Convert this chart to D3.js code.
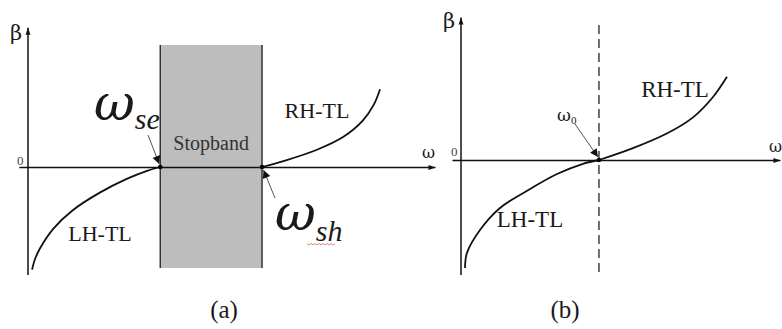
<!DOCTYPE html>
<html>
<head>
<meta charset="utf-8">
<script src="https://cdn.jsdelivr.net/npm/d3@7"></script>
<style>
  html, body { margin: 0; padding: 0; background: #fff; }
  svg { display: block; }
  text { font-family: "Liberation Serif", "Times New Roman", serif; fill: #1a1a1a; }
  .greek { font-family: "DejaVu Serif", "Noto Serif", "FreeSerif", "Liberation Serif", serif; }
</style>
</head>
<body>
<svg id="chart" width="782" height="329"></svg>
<script>
// ---- dispersion data (normalised ω, normalised β) ----
// (a) unbalanced CRLH line: left-handed branch, stopband, right-handed branch
const omegaSE = 1.3;
const omegaSH = 2.3;
const lhOmegaA = [0.04, 0.07, 0.12, 0.25, 0.44, 0.71, 0.97, 1.17, 1.3];
const lhBetaA  = [-0.95, -0.85, -0.75, -0.57, -0.40, -0.235, -0.11, -0.035, 0];
const rhOmegaA = [2.3, 2.51, 2.84, 3.1, 3.29, 3.4, 3.46];
const rhBetaA  = [0, 0.055, 0.16, 0.28, 0.43, 0.58, 0.72];

// (b) balanced CRLH line: continuous transition at ω0
const omega0 = 1.73;
const lhOmegaB = [0.05, 0.075, 0.238, 0.489, 0.828, 1.204, 1.53, 1.73];
const lhBetaB  = [-1.0, -0.86, -0.648, -0.444, -0.285, -0.13, -0.035, 0];
const rhOmegaB = [1.73, 2.157, 2.58, 2.91, 3.16, 3.335];
const rhBetaB  = [0, 0.11, 0.245, 0.395, 0.583, 0.77];

// axis extents
const omegaAxisA = [-0.09, 4];
const betaAxisA  = [-1.0, 1.29];
const stopbandBeta = [-0.935, 1.13];
const omegaAxisB = [-0.113, 4];
const betaAxisB  = [-1.065, 1.32];
const dashBeta   = [-1.046, 1.25];

const svg = d3.select("#chart");
const defs = svg.append("defs");
defs.append("marker")
  .attr("id", "axisHead").attr("viewBox", "0 0 10 10")
  .attr("refX", 10).attr("refY", 5)
  .attr("markerWidth", 10).attr("markerHeight", 7)
  .attr("markerUnits", "userSpaceOnUse")
  .attr("orient", "auto")
  .append("path").attr("d", "M0,1.5L10,5L0,8.5Z").attr("fill", "#111");
defs.append("marker")
  .attr("id", "pointerHead").attr("viewBox", "0 0 10 10")
  .attr("refX", 10).attr("refY", 5)
  .attr("markerWidth", 10).attr("markerHeight", 8)
  .attr("markerUnits", "userSpaceOnUse")
  .attr("orient", "auto")
  .append("path").attr("d", "M0,0L10,5L0,10Z").attr("fill", "#111");

const curve = d3.line().curve(d3.curveCatmullRom.alpha(0.5));

function drawAxes(g, x, y, omegaExt, betaExt) {
  const xAxisScale = x.copy().domain(omegaExt).range(omegaExt.map(x));
  const yAxisScale = y.copy().domain(betaExt).range(betaExt.map(y));
  const gx = g.append("g").attr("transform", `translate(0,${y(0)})`)
    .call(d3.axisBottom(xAxisScale).tickValues([]).tickSizeOuter(0));
  const gy = g.append("g").attr("transform", `translate(${x(0)},0)`)
    .call(d3.axisLeft(yAxisScale).tickValues([]).tickSizeOuter(0));
  [gx, gy].forEach(a => a.select(".domain")
    .attr("stroke", "#111").attr("stroke-width", 1.5)
    .attr("marker-end", "url(#axisHead)"));
  // domain paths run from range[0] to range[1]; y axis must point upward
  gy.select(".domain").attr("d", `M0,${y(betaExt[0])}V${y(betaExt[1])}`);
}

function pointer(g, x1, y1, x2, y2) {
  g.append("line").attr("x1", x1).attr("y1", y1).attr("x2", x2).attr("y2", y2)
    .attr("stroke", "#555").attr("stroke-width", 1)
    .attr("marker-end", "url(#pointerHead)");
}

function branch(g, x, y, om, be) {
  g.append("path").attr("d", curve(d3.zip(om, be).map(d => [x(d[0]), y(d[1])])))
    .attr("fill", "none").attr("stroke", "#111").attr("stroke-width", 1.8);
}

// ================= panel (a) =================
const xA = d3.scaleLinear().domain([0, 4]).range([28, 435]);
const yA = d3.scaleLinear().domain([-1, 1]).range([275, 59]);
const gA = svg.append("g");

gA.append("rect")
  .attr("x", xA(omegaSE)).attr("y", yA(stopbandBeta[1]))
  .attr("width", xA(omegaSH) - xA(omegaSE))
  .attr("height", yA(stopbandBeta[0]) - yA(stopbandBeta[1]))
  .attr("fill", "#bdbdbd").attr("stroke", "none");
[omegaSE, omegaSH].forEach(w => gA.append("line")
  .attr("x1", xA(w)).attr("x2", xA(w))
  .attr("y1", yA(stopbandBeta[1])).attr("y2", yA(stopbandBeta[0]))
  .attr("stroke", "#333").attr("stroke-width", 1.5));

drawAxes(gA, xA, yA, omegaAxisA, betaAxisA);
branch(gA, xA, yA, lhOmegaA, lhBetaA);
branch(gA, xA, yA, rhOmegaA, rhBetaA);
[omegaSE, omegaSH].forEach(w => gA.append("circle")
  .attr("cx", xA(w)).attr("cy", yA(0)).attr("r", 2.3).attr("fill", "#000"));

gA.append("text").attr("class", "greek").attr("x", 10).attr("y", 40).attr("font-size", 21).text("β");
gA.append("text").attr("x", 17).attr("y", 165).attr("font-size", 13).style("fill", "#444").text("0");
gA.append("text").attr("class", "greek").attr("x", 422).attr("y", 158).attr("font-size", 16).text("ω");
gA.append("text").attr("x", xA((omegaSE + omegaSH) / 2)).attr("y", 150)
  .attr("text-anchor", "middle").attr("font-size", 20).style("fill", "#333").text("Stopband");
gA.append("text").attr("x", 317).attr("y", 118).attr("text-anchor", "middle")
  .attr("font-size", 22).text("RH-TL");
gA.append("text").attr("x", 100).attr("y", 241).attr("text-anchor", "middle")
  .attr("font-size", 22).text("LH-TL");

const se = gA.append("text").attr("x", 94).attr("y", 120).attr("font-style", "italic");
se.append("tspan").attr("class", "greek").attr("font-size", 50).text("ω");
se.append("tspan").attr("font-size", 30).attr("dy", 9).text("se");
pointer(gA, 148, 135, xA(omegaSE) - 1, yA(0) - 3);

const sh = gA.append("text").attr("x", 275).attr("y", 230).attr("font-style", "italic");
sh.append("tspan").attr("class", "greek").attr("font-size", 50).text("ω");
sh.append("tspan").attr("font-size", 30).attr("dy", 11).text("sh");
// spell-check style squiggle beneath the subscript
const squig = d3.range(307, 336, 2).map((px, i) => [px, 244 + (i % 2 ? 1 : -0.5)]);
gA.append("path").attr("d", d3.line()(squig)).attr("fill", "none")
  .attr("stroke", "#e06060").attr("stroke-width", 0.8);
pointer(gA, 275, 198, xA(omegaSH) + 1.5, yA(0) + 3);

gA.append("text").attr("x", 224).attr("y", 318).attr("text-anchor", "middle")
  .attr("font-size", 25).text("(a)");

// ================= panel (b) =================
const xB = d3.scaleLinear().domain([0, 4]).range([461, 780]);
const yB = d3.scaleLinear().domain([-1, 1]).range([268, 52]);
const gB = svg.append("g");

drawAxes(gB, xB, yB, omegaAxisB, betaAxisB);

gB.append("line")
  .attr("x1", xB(omega0)).attr("x2", xB(omega0))
  .attr("y1", yB(dashBeta[1])).attr("y2", yB(dashBeta[0]))
  .attr("stroke", "#222").attr("stroke-width", 1.3).attr("stroke-dasharray", "9,5");

branch(gB, xB, yB, lhOmegaB, lhBetaB);
branch(gB, xB, yB, rhOmegaB, rhBetaB);
gB.append("circle").attr("cx", xB(omega0)).attr("cy", yB(0)).attr("r", 2.3).attr("fill", "#000");

gB.append("text").attr("class", "greek").attr("x", 443).attr("y", 28).attr("font-size", 21).text("β");
gB.append("text").attr("x", 451).attr("y", 156).attr("font-size", 13).style("fill", "#444").text("0");
gB.append("text").attr("class", "greek").attr("x", 769).attr("y", 152).attr("font-size", 16).text("ω");
const w0 = gB.append("text").attr("x", 557).attr("y", 121);
w0.append("tspan").attr("class", "greek").attr("font-size", 17).text("ω");
w0.append("tspan").attr("font-size", 11).attr("dy", 3).text("0");
pointer(gB, 575, 124, xB(omega0) - 1, yB(0) - 3);
gB.append("text").attr("x", 675).attr("y", 97).attr("text-anchor", "middle")
  .attr("font-size", 23).text("RH-TL");
gB.append("text").attr("x", 530).attr("y", 227).attr("text-anchor", "middle")
  .attr("font-size", 23).text("LH-TL");
gB.append("text").attr("x", 565).attr("y", 318).attr("text-anchor", "middle")
  .attr("font-size", 25).text("(b)");
</script>
</body>
</html>
